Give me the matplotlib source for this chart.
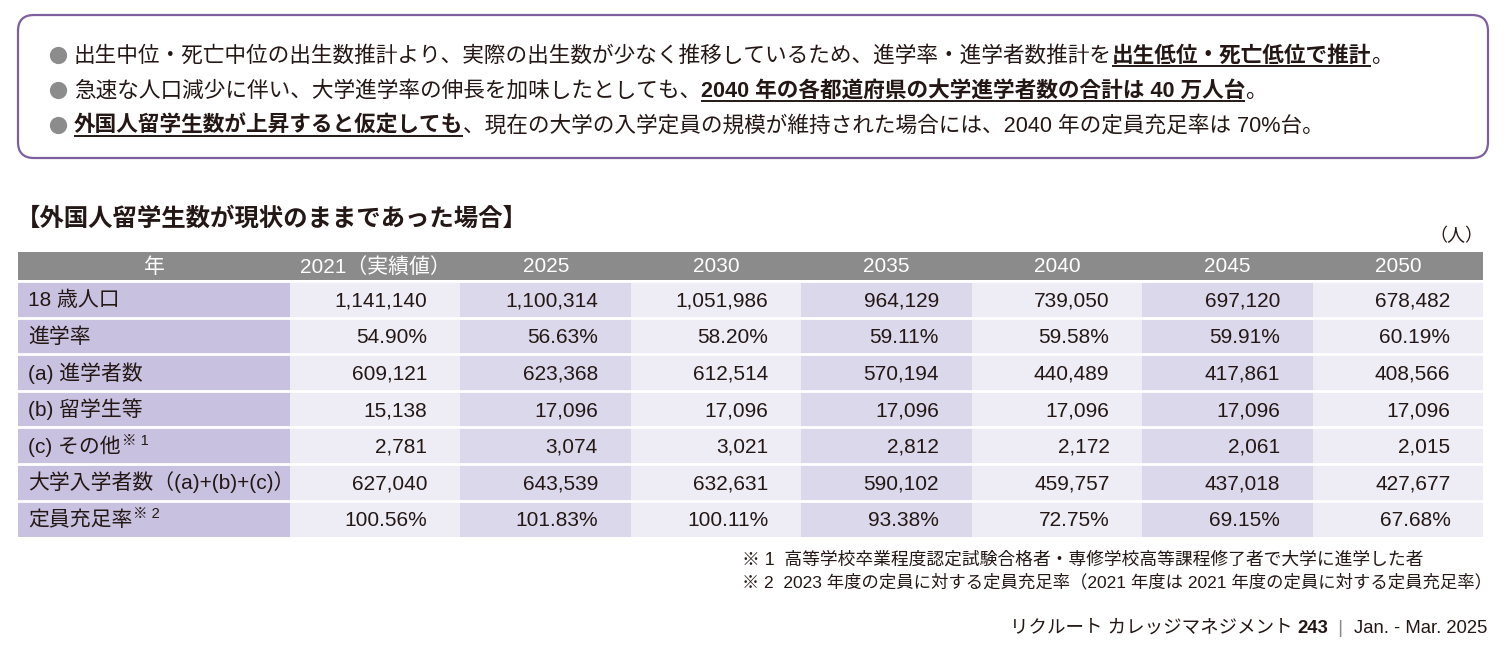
import matplotlib
matplotlib.use('Agg')
import matplotlib.pyplot as plt
from matplotlib import font_manager
from matplotlib.patches import FancyBboxPatch, Rectangle

# fonts: narrow latin like the printed page, CJK fallback
names = {f.name for f in font_manager.fontManager.ttflist}
latin = 'Liberation Sans Narrow' if 'Liberation Sans Narrow' in names else 'Liberation Sans'
plt.rcParams['font.family'] = [latin, 'Noto Sans CJK JP', 'DejaVu Sans']

# ---- data ----
years = ['2021（実績値）', '2025', '2030', '2035', '2040', '2045', '2050']
row_labels = ['18 歳人口', '進学率', '(a) 進学者数', '(b) 留学生等', '(c) その他',
              '大学入学者数（(a)+(b)+(c)）', '定員充足率']
row_notes = ['', '', '', '', '※ 1', '', '※ 2']
pop18 = [1141140, 1100314, 1051986, 964129, 739050, 697120, 678482]
adv_rate = [54.90, 56.63, 58.20, 59.11, 59.58, 59.91, 60.19]
a_students = [609121, 623368, 612514, 570194, 440489, 417861, 408566]
b_intl = [15138, 17096, 17096, 17096, 17096, 17096, 17096]
c_other = [2781, 3074, 3021, 2812, 2172, 2061, 2015]
entrants = [627040, 643539, 632631, 590102, 459757, 437018, 427677]
fill_rate = [100.56, 101.83, 100.11, 93.38, 72.75, 69.15, 67.68]

bullets = [
    [('出生中位・死亡中位の出生数推計より、実際の出生数が少なく推移しているため、進学率・進学者数推計を', False),
     ('出生低位・死亡低位で推計', True), ('。', False)],
    [('急速な人口減少に伴い、大学進学率の伸長を加味したとしても、', False),
     ('2040 年の各都道府県の大学進学者数の合計は 40 万人台', True), ('。', False)],
    [('外国人留学生数が上昇すると仮定しても', True),
     ('、現在の大学の入学定員の規模が維持された場合には、2040 年の定員充足率は 70%台。', False)],
]
title = '【外国人留学生数が現状のままであった場合】'
notes = ['※ 1  高等学校卒業程度認定試験合格者・専修学校高等課程修了者で大学に進学した者',
         '※ 2  2023 年度の定員に対する定員充足率（2021 年度は 2021 年度の定員に対する定員充足率）']

ink = '#231815'
purple_border = '#7E5F9E'
label_bg = '#C8C1DF'
light_bg = '#EEECF5'
dark_bg = '#DCD8EB'
head_bg = '#8B8B8B'

fig = plt.figure(figsize=(15.06, 6.48), dpi=100)
ax = fig.add_axes([0, 0, 1, 1])
ax.set_xlim(0, 1506)
ax.set_ylim(648, 0)
ax.axis('off')
fig.canvas.draw()
renderer = fig.canvas.get_renderer()


def width_of(t):
    return t.get_window_extent(renderer).width


def put_runs(x, y, runs, size):
    for txt, bold in runs:
        t = ax.text(x, y, txt, fontsize=size, color=ink, va='baseline', ha='left',
                    fontweight='bold' if bold else 'normal')
        w = width_of(t)
        if bold:
            ax.plot([x, x + w], [y + 4, y + 4], color=ink, lw=1.4, solid_capstyle='butt')
        x += w


# ---- summary box ----
ax.add_patch(FancyBboxPatch((18, 15), 1470, 143, boxstyle='round,pad=0,rounding_size=16',
                            ec=purple_border, fc='white', lw=1.6))
for i, runs in enumerate(bullets):
    base = 62 + i * 35
    ax.scatter([58], [base - 7], s=130, color='#8C8C8C', zorder=3)
    put_runs(74, base, runs, 15.6)

# ---- title ----
ax.text(16, 219, title, fontsize=17.6, fontweight='bold', color=ink, va='center', ha='left')
ax.text(1483, 236, '（人）', fontsize=13, color=ink, va='center', ha='right')

# ---- table ----
x_lab0, x_lab1 = 18, 290
col_w = 170.5
head_y0, head_h = 252, 28
row_y0, row_h = 281, 36.6

table_rows = [
    [f'{v:,}' for v in pop18],
    [f'{v:.2f}%' for v in adv_rate],
    [f'{v:,}' for v in a_students],
    [f'{v:,}' for v in b_intl],
    [f'{v:,}' for v in c_other],
    [f'{v:,}' for v in entrants],
    [f'{v:.2f}%' for v in fill_rate],
]

ax.add_patch(Rectangle((x_lab0, head_y0), x_lab1 + col_w * len(years) - x_lab0, head_h,
                       fc=head_bg, ec='none'))
ax.text((x_lab0 + x_lab1) / 2, head_y0 + head_h / 2 + 1, '年', fontsize=15, color='white',
        va='center', ha='center')
for j, yr in enumerate(years):
    cx = x_lab1 + col_w * (j + 0.5)
    ax.text(cx, head_y0 + head_h / 2 + 1, yr, fontsize=15, color='white', va='center', ha='center')

for i, label in enumerate(row_labels):
    y0 = row_y0 + i * row_h
    cy = y0 + row_h / 2
    ax.add_patch(Rectangle((x_lab0, y0), x_lab1 - x_lab0, row_h, fc=label_bg, ec='none'))
    t = ax.text(28, cy + 7, label, fontsize=15, color=ink, va='baseline', ha='left')
    if row_notes[i]:
        ax.text(28 + width_of(t) + 1, cy - 1, row_notes[i], fontsize=10.5, color=ink,
                va='baseline', ha='left')
    for j, val in enumerate(table_rows[i]):
        x0 = x_lab1 + col_w * j
        ax.add_patch(Rectangle((x0, y0), col_w, row_h,
                               fc=dark_bg if j % 2 == 1 else light_bg, ec='none'))
        ax.text(x0 + col_w - 33, cy + 7, val, fontsize=15, color=ink, va='baseline', ha='right')

# white row separators
for i in range(len(row_labels)):
    y = row_y0 + i * row_h
    ax.plot([x_lab0, x_lab1 + col_w * len(years)], [y, y], color='white', lw=2)

# ---- footnotes ----
ax.text(742, 560, notes[0], fontsize=12.8, color=ink, va='center', ha='left')
ax.text(742, 582, notes[1], fontsize=12.5, color=ink, va='center', ha='left')

# footer, right aligned
footer = [('リクルート カレッジマネジメント ', 'normal', ink), ('243', 'bold', ink),
          ('  |  ', 'normal', '#888888'), ('Jan. - Mar. 2025', 'normal', ink)]
x = 1487
for txt, wt, col in reversed(footer):
    t = ax.text(x, 633, txt, fontsize=13.3, fontweight=wt, color=col, va='baseline', ha='right')
    x -= width_of(t)

fig.savefig('out.png', dpi=100, facecolor='white')
